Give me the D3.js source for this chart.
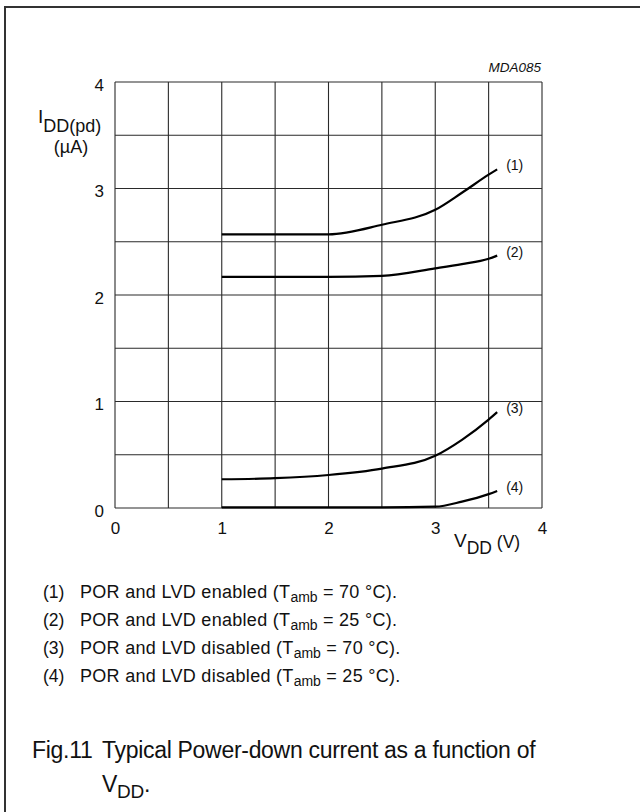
<!doctype html>
<html>
  <head>
    <meta charset="utf8">
    <script src="https://d3js.org/d3.v7.min.js"></script>
    <style type="text/css">
      body { margin: 0; background: #fff; }
      svg { display: block; font-family: 'Liberation Sans', Arial, sans-serif; fill: #111; }
    </style>
  </head>
  <body>
    <script type="text/javascript">
      const w = 640;
      const h = 812;

      // supply voltage points (V) and power-down current (uA) per curve
      const vdd = [1, 1.5, 2, 2.5, 3, 3.25, 3.5, 3.58];
      const curve1 = [2.57, 2.57, 2.57, 2.66, 2.80, 2.96, 3.13, 3.18];
      const curve2 = [2.17, 2.17, 2.17, 2.18, 2.25, 2.29, 2.34, 2.37];
      const curve3 = [0.27, 0.28, 0.31, 0.37, 0.49, 0.64, 0.83, 0.90];
      const curve4 = [0.005, 0.005, 0.005, 0.005, 0.012, 0.06, 0.13, 0.16];
      const curveNames = ['(1)', '(2)', '(3)', '(4)'];

      const xTicks = [0, 1, 2, 3, 4];
      const yTicks = [0, 1, 2, 3, 4];
      const gridSteps = [0, 0.5, 1, 1.5, 2, 2.5, 3, 3.5, 4];

      const legendItems = [
        ['(1)', 'POR and LVD enabled', '70'],
        ['(2)', 'POR and LVD enabled', '25'],
        ['(3)', 'POR and LVD disabled', '70'],
        ['(4)', 'POR and LVD disabled', '25']
      ];

      const xScale = d3.scaleLinear().domain([0, 4]).range([115, 542]);
      const yScale = d3.scaleLinear().domain([0, 4]).range([508, 82]);

      const svg = d3.select('body')
        .append('svg')
        .attr('width', w)
        .attr('height', h);

      // outer frame (top and left only)
      svg.append('path')
        .attr('d', 'M5,' + h + 'V7H' + w)
        .attr('fill', 'none')
        .attr('stroke', '#333')
        .attr('stroke-width', 2);

      // grid
      svg.append('g').selectAll('line')
        .data(gridSteps)
        .enter().append('line')
        .attr('x1', (d) => xScale(d)).attr('x2', (d) => xScale(d))
        .attr('y1', yScale(0)).attr('y2', yScale(4))
        .attr('stroke', '#2a2a2a').attr('stroke-width', 1.1);

      svg.append('g').selectAll('line')
        .data(gridSteps)
        .enter().append('line')
        .attr('y1', (d) => yScale(d)).attr('y2', (d) => yScale(d))
        .attr('x1', xScale(0)).attr('x2', xScale(4))
        .attr('stroke', '#2a2a2a').attr('stroke-width', 1.1);

      // axes (labels only)
      const xAxis = svg.append('g')
        .attr('transform', 'translate(0,' + yScale(0) + ')')
        .call(d3.axisBottom(xScale).tickValues(xTicks).tickFormat(d3.format('d'))
          .tickSize(0).tickPadding(14));
      xAxis.select('.domain').remove();

      const yAxis = svg.append('g')
        .attr('transform', 'translate(' + xScale(0) + ',0)')
        .call(d3.axisLeft(yScale).tickValues(yTicks).tickFormat(d3.format('d'))
          .tickSize(0).tickPadding(11));
      yAxis.select('.domain').remove();
      yAxis.selectAll('text').attr('dy', '0.48em');

      [xAxis, yAxis].forEach((g) => {
        g.attr('font-size', 17)
          .attr('font-family', "'Liberation Sans', Arial, sans-serif");
        g.selectAll('text').attr('fill', '#111');
      });

      // curves
      const series = [curve1, curve2, curve3, curve4];
      const line = d3.line()
        .x((d, i) => xScale(vdd[i]))
        .y((d) => yScale(d))
        .curve(d3.curveMonotoneX);

      svg.append('g').selectAll('path')
        .data(series)
        .enter().append('path')
        .attr('d', (d) => line(d))
        .attr('fill', 'none')
        .attr('stroke', '#000')
        .attr('stroke-width', 2.2);

      svg.append('g').selectAll('text')
        .data(series)
        .enter().append('text')
        .attr('x', xScale(vdd[vdd.length - 1]) + 9)
        .attr('y', (d) => yScale(d[d.length - 1]) + 1)
        .attr('font-size', '14px')
        .text((d, i) => curveNames[i]);

      // axis titles
      svg.append('text')
        .attr('x', 541).attr('y', 72)
        .attr('text-anchor', 'end')
        .attr('font-size', '13.5px')
        .attr('font-style', 'italic')
        .text('MDA085');

      const yt = svg.append('text')
        .attr('x', 38).attr('y', 123)
        .attr('font-size', '19px');
      yt.append('tspan').text('I');
      yt.append('tspan').attr('dy', 9).attr('font-size', '18px').text('DD(pd)');

      svg.append('text')
        .attr('x', 71).attr('y', 153)
        .attr('text-anchor', 'middle')
        .attr('font-size', '18px')
        .text('(\u00b5A)');

      const xt = svg.append('text')
        .attr('x', 454).attr('y', 547)
        .attr('font-size', '19px');
      xt.append('tspan').text('V');
      xt.append('tspan').attr('dy', 7).attr('font-size', '17.5px').text('DD');
      xt.append('tspan').attr('dy', -6).attr('font-size', '17.5px').text(' (V)');

      // legend
      const leg = svg.append('g').selectAll('g')
        .data(legendItems)
        .enter().append('g')
        .attr('transform', (d, i) => 'translate(0,' + (598 + i * 28) + ')');

      leg.append('text')
        .attr('x', 43)
        .attr('font-size', '17.5px')
        .text((d) => d[0]);

      const lt = leg.append('text')
        .attr('x', 80)
        .attr('font-size', '18px')
        .attr('letter-spacing', '0.3');
      lt.append('tspan').text((d) => d[1] + ' (T');
      lt.append('tspan').attr('dy', 4).attr('font-size', '14px').attr('letter-spacing', '0').text('amb');
      lt.append('tspan').attr('dy', -4).text((d) => ' = ' + d[2] + ' \u00b0C).');

      // caption
      svg.append('text')
        .attr('x', 32).attr('y', 758)
        .attr('font-size', '23px')
        .attr('letter-spacing', '-0.3')
        .text('Fig.11');

      svg.append('text')
        .attr('x', 102).attr('y', 758)
        .attr('font-size', '23px')
        .attr('letter-spacing', '-0.3')
        .text('Typical Power-down current as a function of');

      const cp = svg.append('text')
        .attr('x', 102).attr('y', 792)
        .attr('font-size', '23px')
        .attr('letter-spacing', '-0.3');
      cp.append('tspan').text('V');
      cp.append('tspan').attr('dy', 6).attr('font-size', '19px').text('DD');
      cp.append('tspan').attr('dy', -6).text('.');
    </script>
  </body>
</html>
